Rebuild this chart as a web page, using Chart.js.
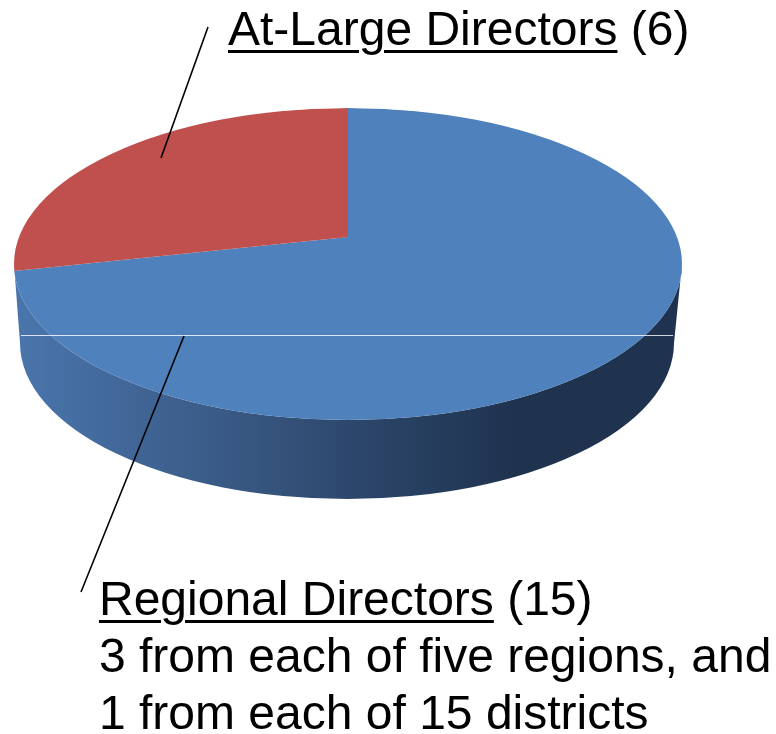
<!DOCTYPE html>
<html>
<head>
<meta charset="utf-8">
<script src="https://cdn.jsdelivr.net/npm/chart.js@4"></script>
<style>
  html, body { margin: 0; padding: 0; background: #fff; }
  #wrap { position: relative; width: 776px; height: 734px; overflow: hidden; }
  #pieChart { position: absolute; left: 0; top: 0; }
  .lbl {
    position: absolute;
    font-family: "Liberation Sans", Arial, sans-serif;
    font-size: 48px;
    line-height: 57px;
    color: #000;
    white-space: nowrap;
  }
  .lbl u {
    text-decoration: underline;
    text-decoration-thickness: 3px;
    text-underline-offset: 5px;
  }
</style>
</head>
<body>
<div id="wrap">
  <canvas id="pieChart" width="776" height="734"></canvas>
  <div class="lbl" id="topLabel" style="left:228px; top:0px;"></div>
  <div class="lbl" id="bottomLabel" style="left:99px; top:570px;"></div>
</div>
<script>
// donnees du graphique
const categories = ["Regional Directors", "At-Large Directors"];
const counts = [15, 6];
const sliceColors = ["#4f81bd", "#c0504d"];
const regionalNote = ["3 from each of five regions, and", "1 from each of 15 districts"];

// geometrie de la vue 3D (ellipse du dessus, sommet des parts, epaisseur)
const CX = 348, CY = 264, RX = 334, RY = 156;
const VY = 237;          // sommet des parts (perspective)
const DEPTH = 79;
const BACK = { rx: 334, ry: 129 };   // moitie arriere
const FRONT = { rx: 427, ry: 190 };  // moitie avant

// textes
document.getElementById("topLabel").innerHTML =
  "<u>" + categories[1] + "</u> (" + counts[1] + ")";
document.getElementById("bottomLabel").innerHTML =
  "<u>" + categories[0] + "</u> (" + counts[0] + ")<br>" + regionalNote.join("<br>");

function clipFace(ctx, back) {
  ctx.beginPath();
  ctx.ellipse(CX, CY, RX, RY, 0, 0, Math.PI * 2);
  ctx.clip();
  ctx.beginPath();
  if (back) ctx.rect(0, 0, 776, VY + 0.5);
  else ctx.rect(0, VY, 776, 734 - VY);
  ctx.clip();
}

function toFace(chart, ctx, f) {
  const arc = chart.getDatasetMeta(0).data[0];
  const R = arc.outerRadius;
  ctx.translate(CX, VY);
  ctx.scale(f.rx / R, f.ry / R);
  ctx.translate(-arc.x, -arc.y);
}

// cote du "cylindre"
function drawSide(ctx) {
  const g = ctx.createLinearGradient(CX - RX, 0, CX + RX, 0);
  g.addColorStop(0, "#4a76ad");
  g.addColorStop(0.3, "#3a5b87");
  g.addColorStop(0.55, "#2a4366");
  g.addColorStop(0.75, "#1f334f");
  g.addColorStop(1, "#1f3350");
  ctx.save();
  ctx.beginPath();
  ctx.moveTo(CX + RX, CY);
  ctx.ellipse(CX, CY, RX, RY, 0, 0, Math.PI, false);
  ctx.lineTo(CX - RX + 6, CY + DEPTH);
  ctx.ellipse(CX - 1, CY + DEPTH, RX - 7, RY, 0, Math.PI, 0, true);
  ctx.closePath();
  ctx.fillStyle = g;
  ctx.fill();
  ctx.restore();
}

const pie3d = {
  id: "pie3d",
  beforeDatasetsDraw(chart) {
    const ctx = chart.ctx;
    drawSide(ctx);
    ctx.save();
    clipFace(ctx, true);
    toFace(chart, ctx, BACK);
  },
  afterDatasetsDraw(chart) {
    const ctx = chart.ctx;
    ctx.restore();
    // moitie avant, redessinee par le controleur
    ctx.save();
    clipFace(ctx, false);
    toFace(chart, ctx, FRONT);
    chart.getDatasetMeta(0).controller.draw();
    ctx.restore();

    ctx.save();
    ctx.strokeStyle = "rgba(255,255,255,0.8)";
    ctx.lineWidth = 1;
    ctx.beginPath();
    ctx.moveTo(21, 335.5);
    ctx.lineTo(673, 335.5);
    ctx.stroke();

    // traits de rappel
    ctx.strokeStyle = "#000";
    ctx.lineWidth = 1.6;
    ctx.beginPath();
    ctx.moveTo(208, 27);
    ctx.lineTo(161, 158);
    ctx.moveTo(184, 336);
    ctx.lineTo(81, 592);
    ctx.stroke();
    ctx.restore();
  }
};

const ctx = document.getElementById("pieChart").getContext("2d");
new Chart(ctx, {
  type: "pie",
  data: {
    labels: categories,
    datasets: [{
      data: counts,
      backgroundColor: sliceColors,
      borderWidth: 0
    }]
  },
  options: {
    responsive: false,
    animation: false,
    events: [],
    layout: { padding: 0 },
    plugins: {
      legend: { display: false },
      tooltip: { enabled: false }
    }
  },
  plugins: [pie3d]
});
</script>
</body>
</html>
